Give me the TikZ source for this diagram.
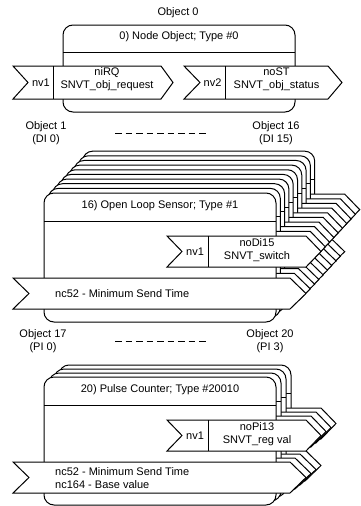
\documentclass[tikz,border=0pt]{standalone}
\usepackage{fontspec}
\setmainfont{Liberation Sans}
\usetikzlibrary{positioning}

% network variable arrow: left, notch, right, tip, top, bottom
\newcommand{\nvshape}[6]{%
  \draw[nvline] (#1,#5) -- (#3,#5) -- (#4,{(#5+#6)/2}) -- (#3,#6) -- (#1,#6) -- (#2,{(#5+#6)/2}) -- cycle;}
% one functional block, from its top left corner
% #1 = height, #2/#3 = left end and notch of the config arrow
\newcommand{\fblock}[3]{%
  \draw[objbox] (0,0) rectangle (232,#1);
  \draw[objline] (0,28) -- (232,28);
  \nvshape{123}{138}{262}{277}{43}{74}
  \draw[objline] (164,43) -- (164,74);
  \nvshape{#2}{#3}{246}{262}{85}{116}}

\begin{document}
\begin{tikzpicture}[x=1pt, y=-1pt,
    objbox/.style={draw, fill=white, line width=1pt, rounded corners=10pt},
    nvline/.style={draw, fill=white, line width=1pt},
    objline/.style={line width=1pt},
    dots/.style={line width=1pt, dash pattern=on 6.5pt off 4pt},
    lbl/.style={font=\fontsize{11}{13}\selectfont, align=center, inner sep=0pt}
]
    \useasboundingbox (0,0) rectangle (360,506);

    % object 0
    \draw[objbox] (63,25) rectangle (295,112);
    \draw[objline] (63,52) -- (295,52);
    \nvshape{13}{28}{161}{173}{66}{99}
    \draw[objline] (53,66) -- (53,99);
    \nvshape{184}{200}{328}{342}{66}{99}
    \draw[objline] (225,66) -- (225,99);

    \node[lbl] (obj0) at (178,13) {Object 0};
    \node[lbl] (nodeobj) at (179,37) {0) Node Object; Type \#0};
    \node[lbl] (nv1a) at (41,82.5) {nv1};
    \node[lbl] (niRQ) at (107,79) {niRQ\\SNVT\_obj\_request};
    \node[lbl] (nv2a) at (212.5,82.5) {nv2};
    \node[lbl] (noST) at (276.5,79) {noST\\SNVT\_obj\_status};

    % digital inputs
    \node[lbl] (obj1) at (46,133) {Object 1\\(DI 0)};
    \node[lbl] (obj16) at (276,133) {Object 16\\(DI 15)};
    \draw[dots, shorten <=69pt, shorten >=70pt] (obj1.center) -- (obj16.center);

    \foreach \i in {9,...,1} {
        \begin{scope}[shift={(44+4.3*\i,193-4.65*\i)}] \fblock{129}{2}{17} \end{scope}
    }
    \begin{scope}[shift={(44,193)}] \fblock{129}{-31}{-15} \end{scope}

    \node[lbl] (disens) at (160,206) {16) Open Loop Sensor; Type \#1};
    \node[lbl] (nv1di) at (195,251.5) {nv1};
    \node[lbl] (noDi) at (257,250) {noDi15\\SNVT\_switch};
    \node[lbl, anchor=west] (ncdi) at (55,293.5) {nc52 - Minimum Send Time};

    % pulse inputs
    \node[lbl] (obj17) at (43,341.5) {Object 17\\(PI 0)};
    \node[lbl] (obj20) at (270,341.5) {Object 20\\(PI 3)};
    \draw[dots, shorten <=72pt, shorten >=64pt] (obj17.center) -- (obj20.center);

    \foreach \i in {3,...,1} {
        \begin{scope}[shift={(44+5*\i,377-4*\i)}] \fblock{128}{2}{17} \end{scope}
    }
    \begin{scope}[shift={(44,377)}] \fblock{128}{-31}{-15} \end{scope}

    \node[lbl] (picount) at (160,390) {20) Pulse Counter; Type \#20010};
    \node[lbl] (nv1pi) at (195,435.5) {nv1};
    \node[lbl] (noPi) at (257,434.5) {noPi13\\SNVT\_reg val};
    \node[lbl, anchor=west, align=left] (ncpi) at (55,478) {nc52 - Minimum Send Time\\nc164 - Base value};
\end{tikzpicture}
\end{document}
